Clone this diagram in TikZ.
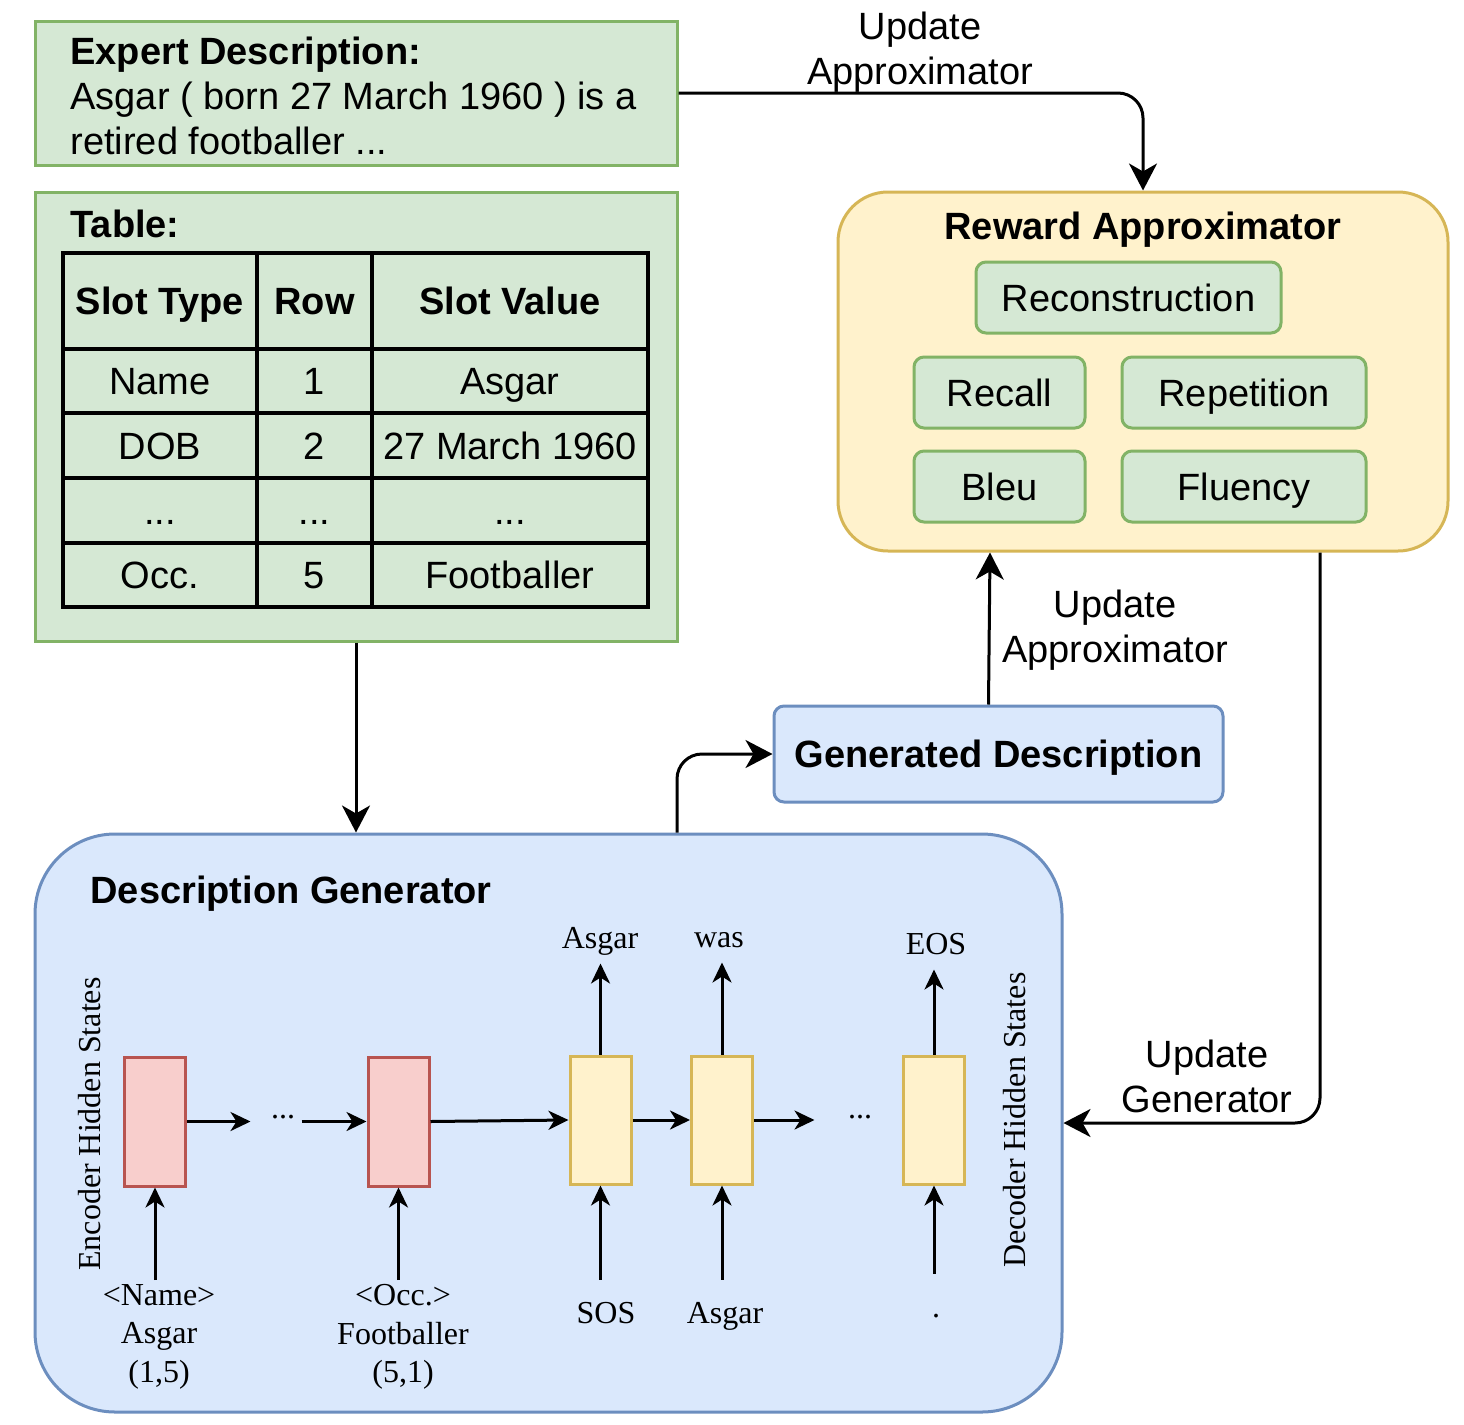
\documentclass[tikz,border=0pt]{standalone}
\usepackage{fontspec}
\setmainfont{Liberation Sans}
\newfontfamily\seriffont{Liberation Serif}
\usetikzlibrary{arrows.meta,positioning}

\definecolor{greenfill}{HTML}{D5E8D4}
\definecolor{greenline}{HTML}{82B366}
\definecolor{yellowfill}{HTML}{FFF2CC}
\definecolor{yellowline}{HTML}{D6B656}
\definecolor{bluefill}{HTML}{DAE8FC}
\definecolor{blueline}{HTML}{6C8EBF}
\definecolor{redfill}{HTML}{F8CECC}
\definecolor{redline}{HTML}{B85450}

\newcommand\tabdots{...}

\tikzset{
    big/.style={font=\fontsize{38}{45}\selectfont},
    capfix/.style={text height=27pt, text depth=0pt},
    every box/.style={draw, line width=3pt, inner sep=0pt},
    green box/.style={every box, fill=greenfill, draw=greenline},
    metric/.style={green box, rounded corners=10pt, minimum height=71pt, big, capfix},
    cell/.style={draw=black, line width=3.5pt, inner sep=0pt, big, capfix},
    enc cell/.style={every box, fill=redfill, draw=redline, minimum width=61pt, minimum height=129pt},
    dec cell/.style={every box, fill=yellowfill, draw=yellowline, minimum width=61pt, minimum height=128pt},
    word/.style={font=\seriffont\fontsize{32}{38.5}\selectfont, inner sep=0pt, align=center},
    fixed/.style={text height=22pt, text depth=7pt},
    flow/.style={-{Stealth[length=27pt, width=28pt, inset=8pt]}, rounded corners=25pt},
}

\begin{document}
\begin{tikzpicture}[x=1pt, y=-1pt, line width=3pt, >={Stealth[length=20pt, width=19pt, inset=6pt]}]
        \useasboundingbox (0,0) rectangle (1464,1424);

        %%%%%%%%%%%%%%%%%%%%%%%%%%%%%%%%%%%%%%%%%%%%
        % Expert description and table
        %%%%%%%%%%%%%%%%%%%%%%%%%%%%%%%%%%%%%%%%%%%%

        \node [green box, minimum width=642pt, minimum height=144pt] (expert) at (356,93) {};
        \node [big, anchor=north west, align=left, inner sep=0pt] (expert-text) at (69,35)
            {\textbf{Expert Description:}\\Asgar ( born 27 March 1960 ) is a\\retired footballer ...};

        \node [green box, minimum width=642pt, minimum height=449pt] (table) at (356,416.5) {};
        \node [big, capfix, anchor=west, inner sep=0pt] (table-title) at (69,224) {\textbf{Table:}};

        % Cells
        \foreach \y/\h/\a/\b/\c [count=\r] in {301/96/\textbf{Slot Type}/\textbf{Row}/\textbf{Slot Value},
                381/64/Name/1/Asgar, 445.5/65/DOB/2/27 March 1960, 510.5/65/\tabdots/\tabdots/\tabdots,
                575/64/Occ./5/Footballer}
        {
            \node [cell, minimum width=194pt, minimum height=\h pt] (cell-\r-1) at (160,\y) {\a};
            \node [cell, minimum width=115pt, minimum height=\h pt] (cell-\r-2) at (314.5,\y) {\b};
            \node [cell, minimum width=276pt, minimum height=\h pt] (cell-\r-3) at (510,\y) {\c};
        }

        %%%%%%%%%%%%%%%%%%%%%%%%%%%%%%%%%%%%%%%%%%%%
        % Reward approximator
        %%%%%%%%%%%%%%%%%%%%%%%%%%%%%%%%%%%%%%%%%%%%

        \node [every box, fill=yellowfill, draw=yellowline, rounded corners=50pt,
            minimum width=610pt, minimum height=359pt] (reward) at (1143,371.5) {};
        \node [big, anchor=base] (reward-title) at (1143,239) {\textbf{Reward Approximator}};

        \foreach \m/\x/\y/\w in {Reconstruction/1128.5/297.5/305, Recall/999.5/392.5/171,
                Repetition/1244/392.5/244, Bleu/999.5/486.5/171, Fluency/1244/486.5/244}
            \node [metric, minimum width=\w pt] (metric-\m) at (\x,\y) {\m};

        %%%%%%%%%%%%%%%%%%%%%%%%%%%%%%%%%%%%%%%%%%%%
        % Generated description
        %%%%%%%%%%%%%%%%%%%%%%%%%%%%%%%%%%%%%%%%%%%%

        \node [every box, fill=bluefill, draw=blueline, rounded corners=10pt, big, capfix,
            minimum width=449pt, minimum height=96pt] (gdesc) at (998.5,754) {\textbf{Generated Description}};

        %%%%%%%%%%%%%%%%%%%%%%%%%%%%%%%%%%%%%%%%%%%%
        % Description generator
        %%%%%%%%%%%%%%%%%%%%%%%%%%%%%%%%%%%%%%%%%%%%

        \node [every box, fill=bluefill, draw=blueline, rounded corners=80pt,
            minimum width=1027pt, minimum height=578pt] (gen) at (548.5,1123) {};
        \node [big, anchor=base west, inner sep=0pt] (gen-title) at (89,903) {\textbf{Description Generator}};

        % Hidden states
        \foreach \x [count=\i] in {155,398.5}
            \node [enc cell] (enc-\i) at (\x,1121.5) {};
        \foreach \x [count=\i] in {600.5,722,934}
            \node [dec cell] (dec-\i) at (\x,1120) {};

        \node [word] (enc-dots) at (283,1117) {...};
        \node [word] (dec-dots) at (860,1117) {...};

        \node [word, rotate=90] (enc-label) at (90,1124) {Encoder Hidden States};
        \node [word, rotate=90] (dec-label) at (1015,1120) {Decoder Hidden States};

        % Inputs
        \node [word, anchor=north] (enc-in-1) at (159,1283) {<Name>\\Asgar\\(1,5)};
        \node [word, anchor=north] (enc-in-2) at (403,1283) {<Occ.>\\Footballer\\(5,1)};
        \foreach \l/\x/\y [count=\i] in {SOS/606/1323, Asgar/725/1323, ./936/1317}
            \node [word, fixed, anchor=base] (dec-in-\i) at (\x,\y) {\l};

        % Outputs
        \foreach \l/\x/\y [count=\i] in {Asgar/600/948, was/719/947, EOS/936/954}
            \node [word, fixed, anchor=base] (dec-out-\i) at (\x,\y) {\l};

        % Recurrent connections
        \draw [->, shorten >=19pt] (enc-1.east) -- (enc-1.east -| enc-dots.west);
        \draw [->, shorten <=5pt] (enc-2.west -| enc-dots.east) -- (enc-2.west);
        \draw [->] (enc-2.east) -- (dec-1.west);
        \draw [->] (dec-1.east) -- (dec-2.west);
        \draw [->, shorten >=32pt] (dec-2.east) -- (dec-2.east -| dec-dots.west);

        % Input and output connections
        \foreach \i in {1,2}
            \draw [->, shorten <=3pt] (enc-\i.south |- enc-in-\i.north) -- (enc-\i.south);
        \foreach \i in {1,...,3}
        {
            \draw [->, shorten <=20pt] (dec-\i.south |- dec-in-\i.north) -- (dec-\i.south);
            \draw [->, shorten >=7pt] (dec-\i.north) -- (dec-\i.north |- dec-out-\i.south);
        }

        %%%%%%%%%%%%%%%%%%%%%%%%%%%%%%%%%%%%%%%%%%%%
        % Connecting
        %%%%%%%%%%%%%%%%%%%%%%%%%%%%%%%%%%%%%%%%%%%%

        \draw [flow] (expert.east) -| (reward.north);
        \node [big, align=center, anchor=north, inner sep=0pt] (update-1) at (920,10) {Update\\Approximator};

        \draw [flow] (table.south) -- (table.south |- gen.north);

        \draw [flow] ([xshift=128.5pt]gen.north) |- (gdesc.west);

        \draw [flow] ([xshift=-10pt]gdesc.north) -- ([xshift=-153pt]reward.south);
        \node [big, align=center, anchor=north, inner sep=0pt] (update-2) at (1115,588) {Update\\Approximator};

        \draw [flow] ([xshift=177pt]reward.south) |- (gen.east);
        \node [big, align=center, anchor=north, inner sep=0pt] (update-3) at (1207,1038) {Update\\Generator};
\end{tikzpicture}
\end{document}
